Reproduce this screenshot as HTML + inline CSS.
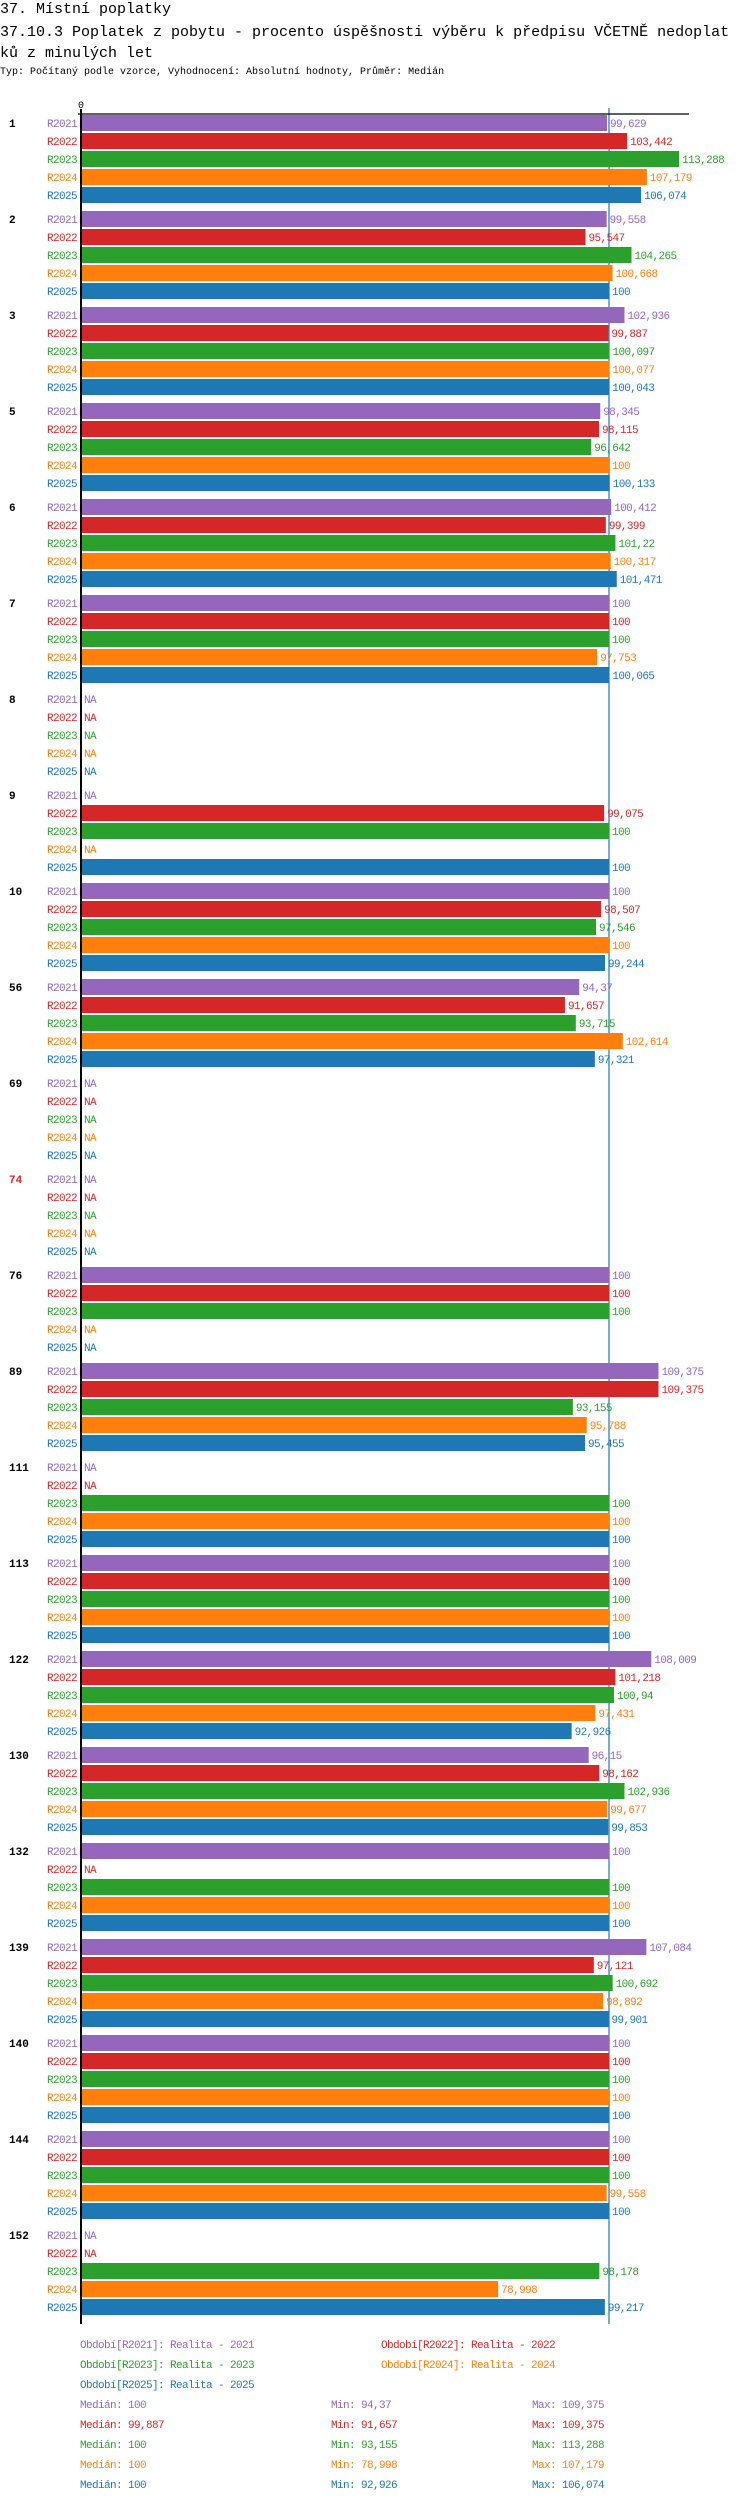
<!DOCTYPE html>
<html><head><meta charset="utf-8">
<style>
body{margin:0;background:#fff;width:750px;height:2502px;overflow:hidden;font-family:"Liberation Mono","DejaVu Sans Mono",monospace;}
.t{position:absolute;left:0;white-space:nowrap;color:#000;}
svg{position:absolute;left:0;top:0;}
svg text{font-family:"Liberation Mono","DejaVu Sans Mono",monospace;}
</style></head><body>
<div class="t" style="top:0;font-size:15px;line-height:20px">37. Místní poplatky</div>
<div class="t" style="top:22px;font-size:15px;line-height:21px">37.10.3 Poplatek z pobytu - procento úspěšnosti výběru k předpisu VČETNĚ nedoplat<br>ků z minulých let</div>
<div class="t" style="top:66px;font-size:10px;line-height:14px">Typ: Počítaný podle vzorce, Vyhodnocení: Absolutní hodnoty, Průměr: Medián</div>
<svg id="chart" width="750" height="2502"></svg>
<script>
const groups=["1","2","3","5","6","7","8","9","10","56","69","74","76","89","111","113","122","130","132","139","140","144","152"];
const seriesNames=["R2021","R2022","R2023","R2024","R2025"];
const s2021=[99.629,99.558,102.936,98.345,100.412,100,null,null,100,94.37,null,null,100,109.375,null,100,108.009,96.15,100,107.084,100,100,null];
const s2022=[103.442,95.547,99.887,98.115,99.399,100,null,99.075,98.507,91.657,null,null,100,109.375,null,100,101.218,98.162,null,97.121,100,100,null];
const s2023=[113.288,104.265,100.097,96.642,101.22,100,null,100,97.546,93.715,null,null,100,93.155,100,100,100.94,102.936,100,100.692,100,100,98.178];
const s2024=[107.179,100.668,100.077,100,100.317,97.753,null,null,100,102.614,null,null,null,95.788,100,100,97.431,99.677,100,98.892,100,99.558,78.998];
const s2025=[106.074,100,100.043,100.133,101.471,100.065,null,100,99.244,97.321,null,null,null,95.455,100,100,92.926,99.853,100,99.901,100,100,99.217];
const medianValue=100;
const legendLabels=["Období[R2021]: Realita - 2021","Období[R2022]: Realita - 2022","Období[R2023]: Realita - 2023","Období[R2024]: Realita - 2024","Období[R2025]: Realita - 2025"];
const medians=["100","99,887","100","100","100"];
const mins=["94,37","91,657","93,155","78,998","92,926"];
const maxs=["109,375","109,375","113,288","107,179","106,074"];

const series=[s2021,s2022,s2023,s2024,s2025];
const colors=["#9467bd","#d62728","#2ca02c","#ff7f0e","#1f77b4"];
const NS="http://www.w3.org/2000/svg";
const svg=document.getElementById('chart');
const X0=81,K=5.28,TOP=115,GP=96,BP=18,BH=16;
const x=v=>X0+v*K;
const y=(g,i)=>TOP+g*GP+i*BP;
function el(tag,attrs,txt){const e=document.createElementNS(NS,tag);for(const k in attrs)e.setAttribute(k,attrs[k]);if(txt!=null)e.textContent=txt;svg.appendChild(e);return e;}
const fmt=v=>String(+v.toFixed(3)).replace('.',',');
const yEnd=y(groups.length-1,4)+BH+9;
let m=el('line',{x1:x(medianValue),x2:x(medianValue),y1:108,y2:yEnd,stroke:'#1f77b4','stroke-width':1.2});


groups.forEach((g,gi)=>{
  let gl=el('text',{x:9,y:y(gi,0)+BH/2+4,'font-size':11,'font-weight':'bold',fill:g==="74"?'#d62728':'#000'},g);
  
  
  series.forEach((s,si)=>{
    const yy=y(gi,si),v=s[gi];
    let lb=el('text',{x:77,y:yy+BH/2+4,'font-size':11,'letter-spacing':-0.6,'text-anchor':'end',fill:colors[si]},seriesNames[si]);
    
    
    if(v==null){
      let na=el('text',{x:84,y:yy+BH/2+4,'font-size':11,'letter-spacing':-0.6,fill:colors[si]},'NA');
      
      
    }else{
      let r=el('rect',{x:X0,y:yy,width:x(v)-X0,height:BH,fill:colors[si]});
      
      
      let vt=el('text',{x:x(v)+3,y:yy+BH/2+4,'font-size':11,'letter-spacing':-0.6,fill:colors[si]},fmt(v));
      
      
    }
  });
});
let ax=el('line',{x1:78,x2:689,y1:114,y2:114,stroke:'#000','stroke-width':1.2});


let ay=el('line',{x1:X0,x2:X0,y1:109,y2:yEnd,stroke:'#000','stroke-width':2});


let t0=el('text',{x:X0,y:108,'font-size':10,'text-anchor':'middle',fill:'#000'},'0');


const LY=2344;
legendLabels.forEach((l,i)=>{
  const lx=i%2===0?80:381, ly=LY+Math.floor(i/2)*20;
  let t=el('text',{x:lx,y:ly+4,'font-size':11,'letter-spacing':-0.6,fill:colors[i]},l);
  
  
});
for(let i=0;i<5;i++){
  const ly=LY+60+i*20+4;
  let a=el('text',{x:80,y:ly,'font-size':11,'letter-spacing':-0.6,fill:colors[i]},'Medián: '+medians[i]);
  
  
  let b=el('text',{x:331,y:ly,'font-size':11,'letter-spacing':-0.6,fill:colors[i]},'Min: '+mins[i]);
  
  
  let c=el('text',{x:532,y:ly,'font-size':11,'letter-spacing':-0.6,fill:colors[i]},'Max: '+maxs[i]);
  
  
}
</script>
</body></html>
